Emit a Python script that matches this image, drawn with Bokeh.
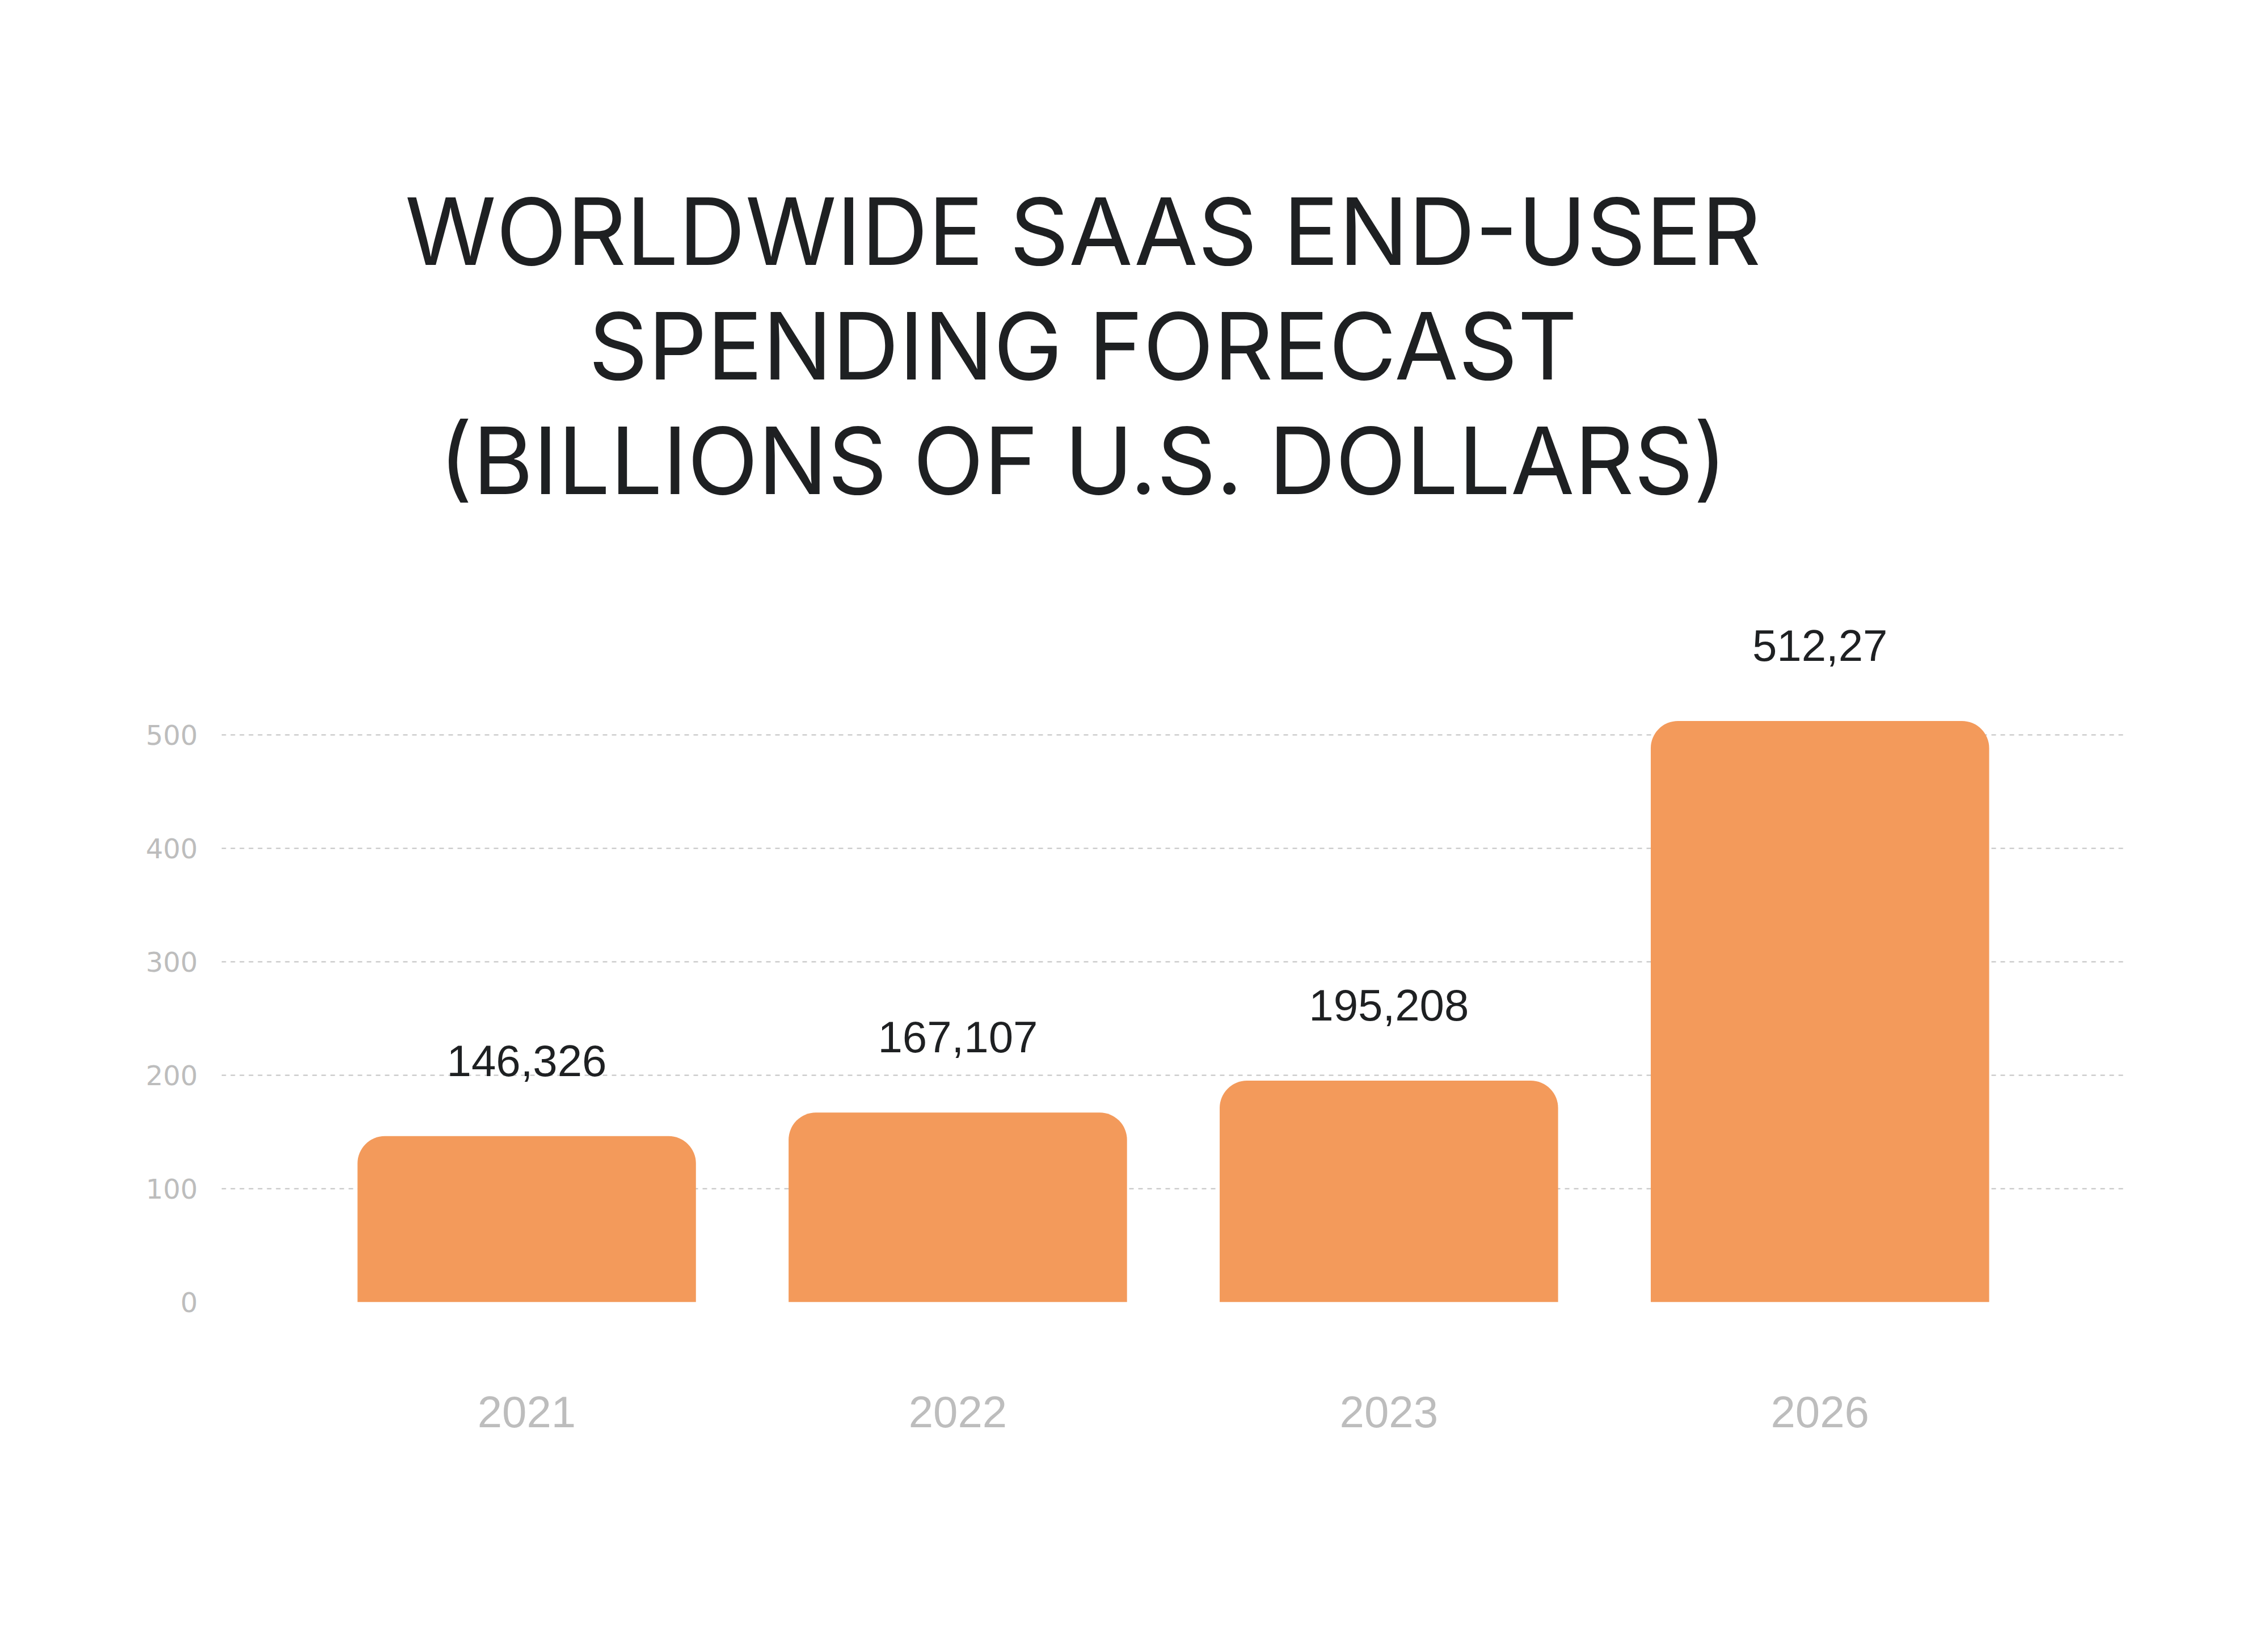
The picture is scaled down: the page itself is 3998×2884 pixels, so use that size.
from bokeh.plotting import figure
from bokeh.layouts import column
from bokeh.models import Range1d, FixedTicker, ColumnDataSource
from bokeh.core.properties import value
from bokeh.embed import file_html
from bokeh.resources import INLINE

# Worldwide SaaS end-user spending forecast, billions of USD
years = ["2021", "2022", "2023", "2026"]
spending = [146.326, 167.107, 195.208, 512.27]
y_ticks = [0, 100, 200, 300, 400, 500]
title_lines = [
    "WORLDWIDE SAAS END-USER",
    "SPENDING FORECAST",
    "(BILLIONS OF U.S. DOLLARS)",
]

BAR_COLOR = "#F39A5B"
INK = "#1E2022"
MUTED = "#BDBDBD"

W = 3998
HEAD_H = 1000
CHART_H = 2884 - HEAD_H

# ---- heading: a bare canvas whose data units are pixels (y grows downward)
head = figure(
    width=W, height=HEAD_H,
    x_range=Range1d(0, W), y_range=Range1d(HEAD_H, 0),
    x_axis_type=None, y_axis_type=None,
    output_backend="svg", toolbar_location=None, title=None,
    min_border=0, outline_line_color=None,
    background_fill_color="white", border_fill_color="white",
)
head.grid.visible = False
head_src = ColumnDataSource(dict(
    x=[1808] * len(title_lines),
    y=[407, 609, 811],
    text=title_lines,
))
head.text(
    x="x", y="y", text="text", source=head_src,
    text_align="center", text_baseline="alphabetic",
    text_font=value("Inter"), text_font_size="163px", text_color=INK,
)

# ---- bar chart
positions = list(range(len(years)))
labels = [f"{v:g}".replace(".", ",") for v in spending]
source = ColumnDataSource(dict(x=positions, top=spending, label=labels))

p = figure(
    width=W,
    height=CHART_H,
    x_range=Range1d(-0.708, len(years) - 1 + 0.711),
    y_range=Range1d(0, 620),
    output_backend="svg",
    toolbar_location=None,
    title=None,
    min_border_left=390,
    min_border_right=250,
    min_border_top=1055 - HEAD_H,
    min_border_bottom=589,
    background_fill_color="white",
    border_fill_color="white",
    outline_line_color=None,
)

p.vbar(
    x="x", top="top", bottom=0, width=0.785, source=source,
    fill_color=BAR_COLOR, line_color=None,
    border_radius=(48, 48, 0, 0),
)

p.text(
    x="x", y="top", text="label", source=source,
    text_align="center", text_baseline="alphabetic",
    y_offset=-133,
    text_font=value("Liberation Sans"), text_font_size="78px",
    text_color=INK,
)

# Axes
p.xaxis.ticker = FixedTicker(ticks=positions)
p.xaxis.major_label_overrides = {i: y for i, y in zip(positions, years)}
p.xaxis.major_label_text_font = "Liberation Sans"
p.xaxis.major_label_text_font_size = "78px"
p.xaxis.major_label_text_color = MUTED
p.xaxis.major_label_standoff = 166
p.xaxis.axis_line_color = None
p.xaxis.major_tick_line_color = None
p.xaxis.minor_tick_line_color = None
p.xaxis.major_tick_out = 0
p.xaxis.major_tick_in = 0

p.yaxis.ticker = FixedTicker(ticks=y_ticks)
p.yaxis.major_label_text_font = "DejaVu Sans"
p.yaxis.major_label_text_font_size = "48px"
p.yaxis.major_label_text_color = MUTED
p.yaxis.major_label_standoff = 42
p.yaxis.axis_line_color = None
p.yaxis.major_tick_line_color = None
p.yaxis.minor_tick_line_color = None
p.yaxis.major_tick_out = 0
p.yaxis.major_tick_in = 0

p.xgrid.grid_line_color = None
p.ygrid.ticker = FixedTicker(ticks=y_ticks)
p.ygrid.grid_line_color = "#C2C2C2"
p.ygrid.grid_line_width = 2
p.ygrid.grid_line_dash = "8 8"

layout = column(head, p, spacing=0)
open("out.html", "w").write(file_html(layout, INLINE))
